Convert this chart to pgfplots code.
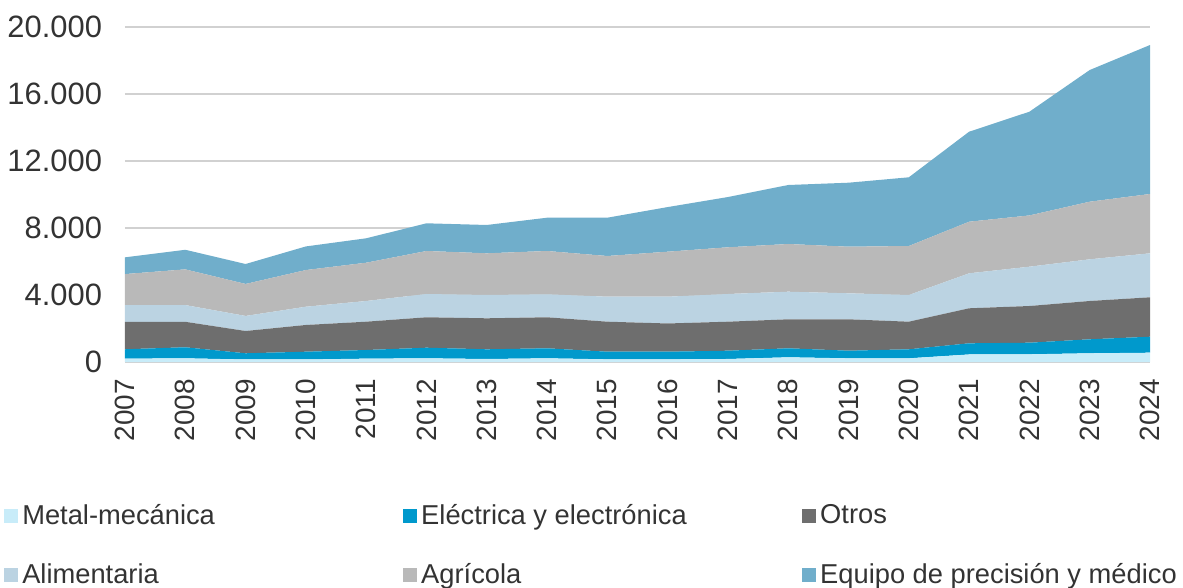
\documentclass[border=0pt]{standalone}
\usepackage{pgfplots}
\usepackage{pgfplotstable}
\pgfplotsset{compat=1.18}
\usepackage{fontspec}
\setmainfont{Liberation Sans}

\definecolor{cMetal}{HTML}{C8ECF9}
\definecolor{cElec}{HTML}{0099CC}
\definecolor{cOtros}{HTML}{6E6E6E}
\definecolor{cAlim}{HTML}{BBD3E2}
\definecolor{cAgri}{HTML}{B9B9B9}
\definecolor{cEquipo}{HTML}{70AECB}
\definecolor{txt}{HTML}{333333}

% exportaciones por sector
\pgfplotstableread{
year metal elec otros alim agri equipo
2007 200 560 1640 1000 1850 1000
2008 220 660 1520 1000 2130 1170
2009 150 370 1330 900 1910 1190
2010 150 465 1595 1090 2190 1410
2011 200 516 1690 1236 2286 1457
2012 220 634 1815 1391 2567 1653
2013 180 578 1851 1391 2489 1691
2014 220 598 1851 1373 2585 1988
2015 160 455 1791 1493 2429 2287
2016 160 455 1685 1599 2686 2665
2017 180 495 1731 1654 2788 3000
2018 280 538 1731 1648 2848 3522
2019 220 455 1874 1552 2782 3821
2020 220 538 1648 1594 2925 4102
2021 450 666 2090 2089 3081 5373
2022 460 692 2191 2347 3060 6193
2023 520 835 2287 2489 3439 7862
2024 555 955 2352 2627 3541 8895
}\datos

\begin{document}
\begin{tikzpicture}
\path[use as bounding box] (-62.5bp,-113bp) rectangle (529bp,181bp);
\begin{axis}[
  scale only axis,
  width=512.5bp, height=167.5bp,
  xmin=2007, xmax=2024,
  ymin=0, ymax=20000,
  stack plots=y,
  axis line style={draw=none},
  major tick length=0pt,
  ymajorgrids,
  major grid style={color=black!18, line width=0.6pt},
  ytick={0,4000,8000,12000,16000,20000},
  xtick={2007,2008,...,2024},
  scaled y ticks=false,
  /pgf/number format/.cd, 1000 sep={.}, assume math mode=true,
  /pgfplots/.cd,
  xticklabel={\pgfmathprintnumber[1000 sep={}]{\tick}},
  tick label style={font=\fontsize{14}{16}\selectfont, text=txt},
  yticklabel style={xshift=-8bp, font=\fontsize{15.5}{18}\selectfont},
  xticklabel style={rotate=90, anchor=east, xshift=-5bp},
  legend columns=3,
  legend cell align=left,
  legend style={draw=none, fill=none, at={(-0.124,-0.40)}, anchor=north west,
    font=\fontsize{13.7}{16}\selectfont, text=txt, row sep=14bp,
    /tikz/every even column/.append style={column sep=0pt}},
  legend image code/.code={\path[#1] (0bp,-3.5bp) rectangle (7bp,3.5bp);},
]
\addplot[fill=cMetal, draw=none] table[x=year, y=metal] {\datos} \closedcycle;
\addlegendentry{\makebox[188.5bp][l]{Metal-mecánica}}
\addplot[fill=cElec, draw=none] table[x=year, y=elec] {\datos} \closedcycle;
\addlegendentry{\makebox[188.5bp][l]{Eléctrica y electrónica}}
\addplot[fill=cOtros, draw=none] table[x=year, y=otros] {\datos} \closedcycle;
\addlegendentry{Otros}
\addplot[fill=cAlim, draw=none] table[x=year, y=alim] {\datos} \closedcycle;
\addlegendentry{\makebox[188.5bp][l]{Alimentaria}}
\addplot[fill=cAgri, draw=none] table[x=year, y=agri] {\datos} \closedcycle;
\addlegendentry{\makebox[188.5bp][l]{Agrícola}}
\addplot[fill=cEquipo, draw=none] table[x=year, y=equipo] {\datos} \closedcycle;
\addlegendentry{Equipo de precisión y médico}
\end{axis}
\end{tikzpicture}
\end{document}
